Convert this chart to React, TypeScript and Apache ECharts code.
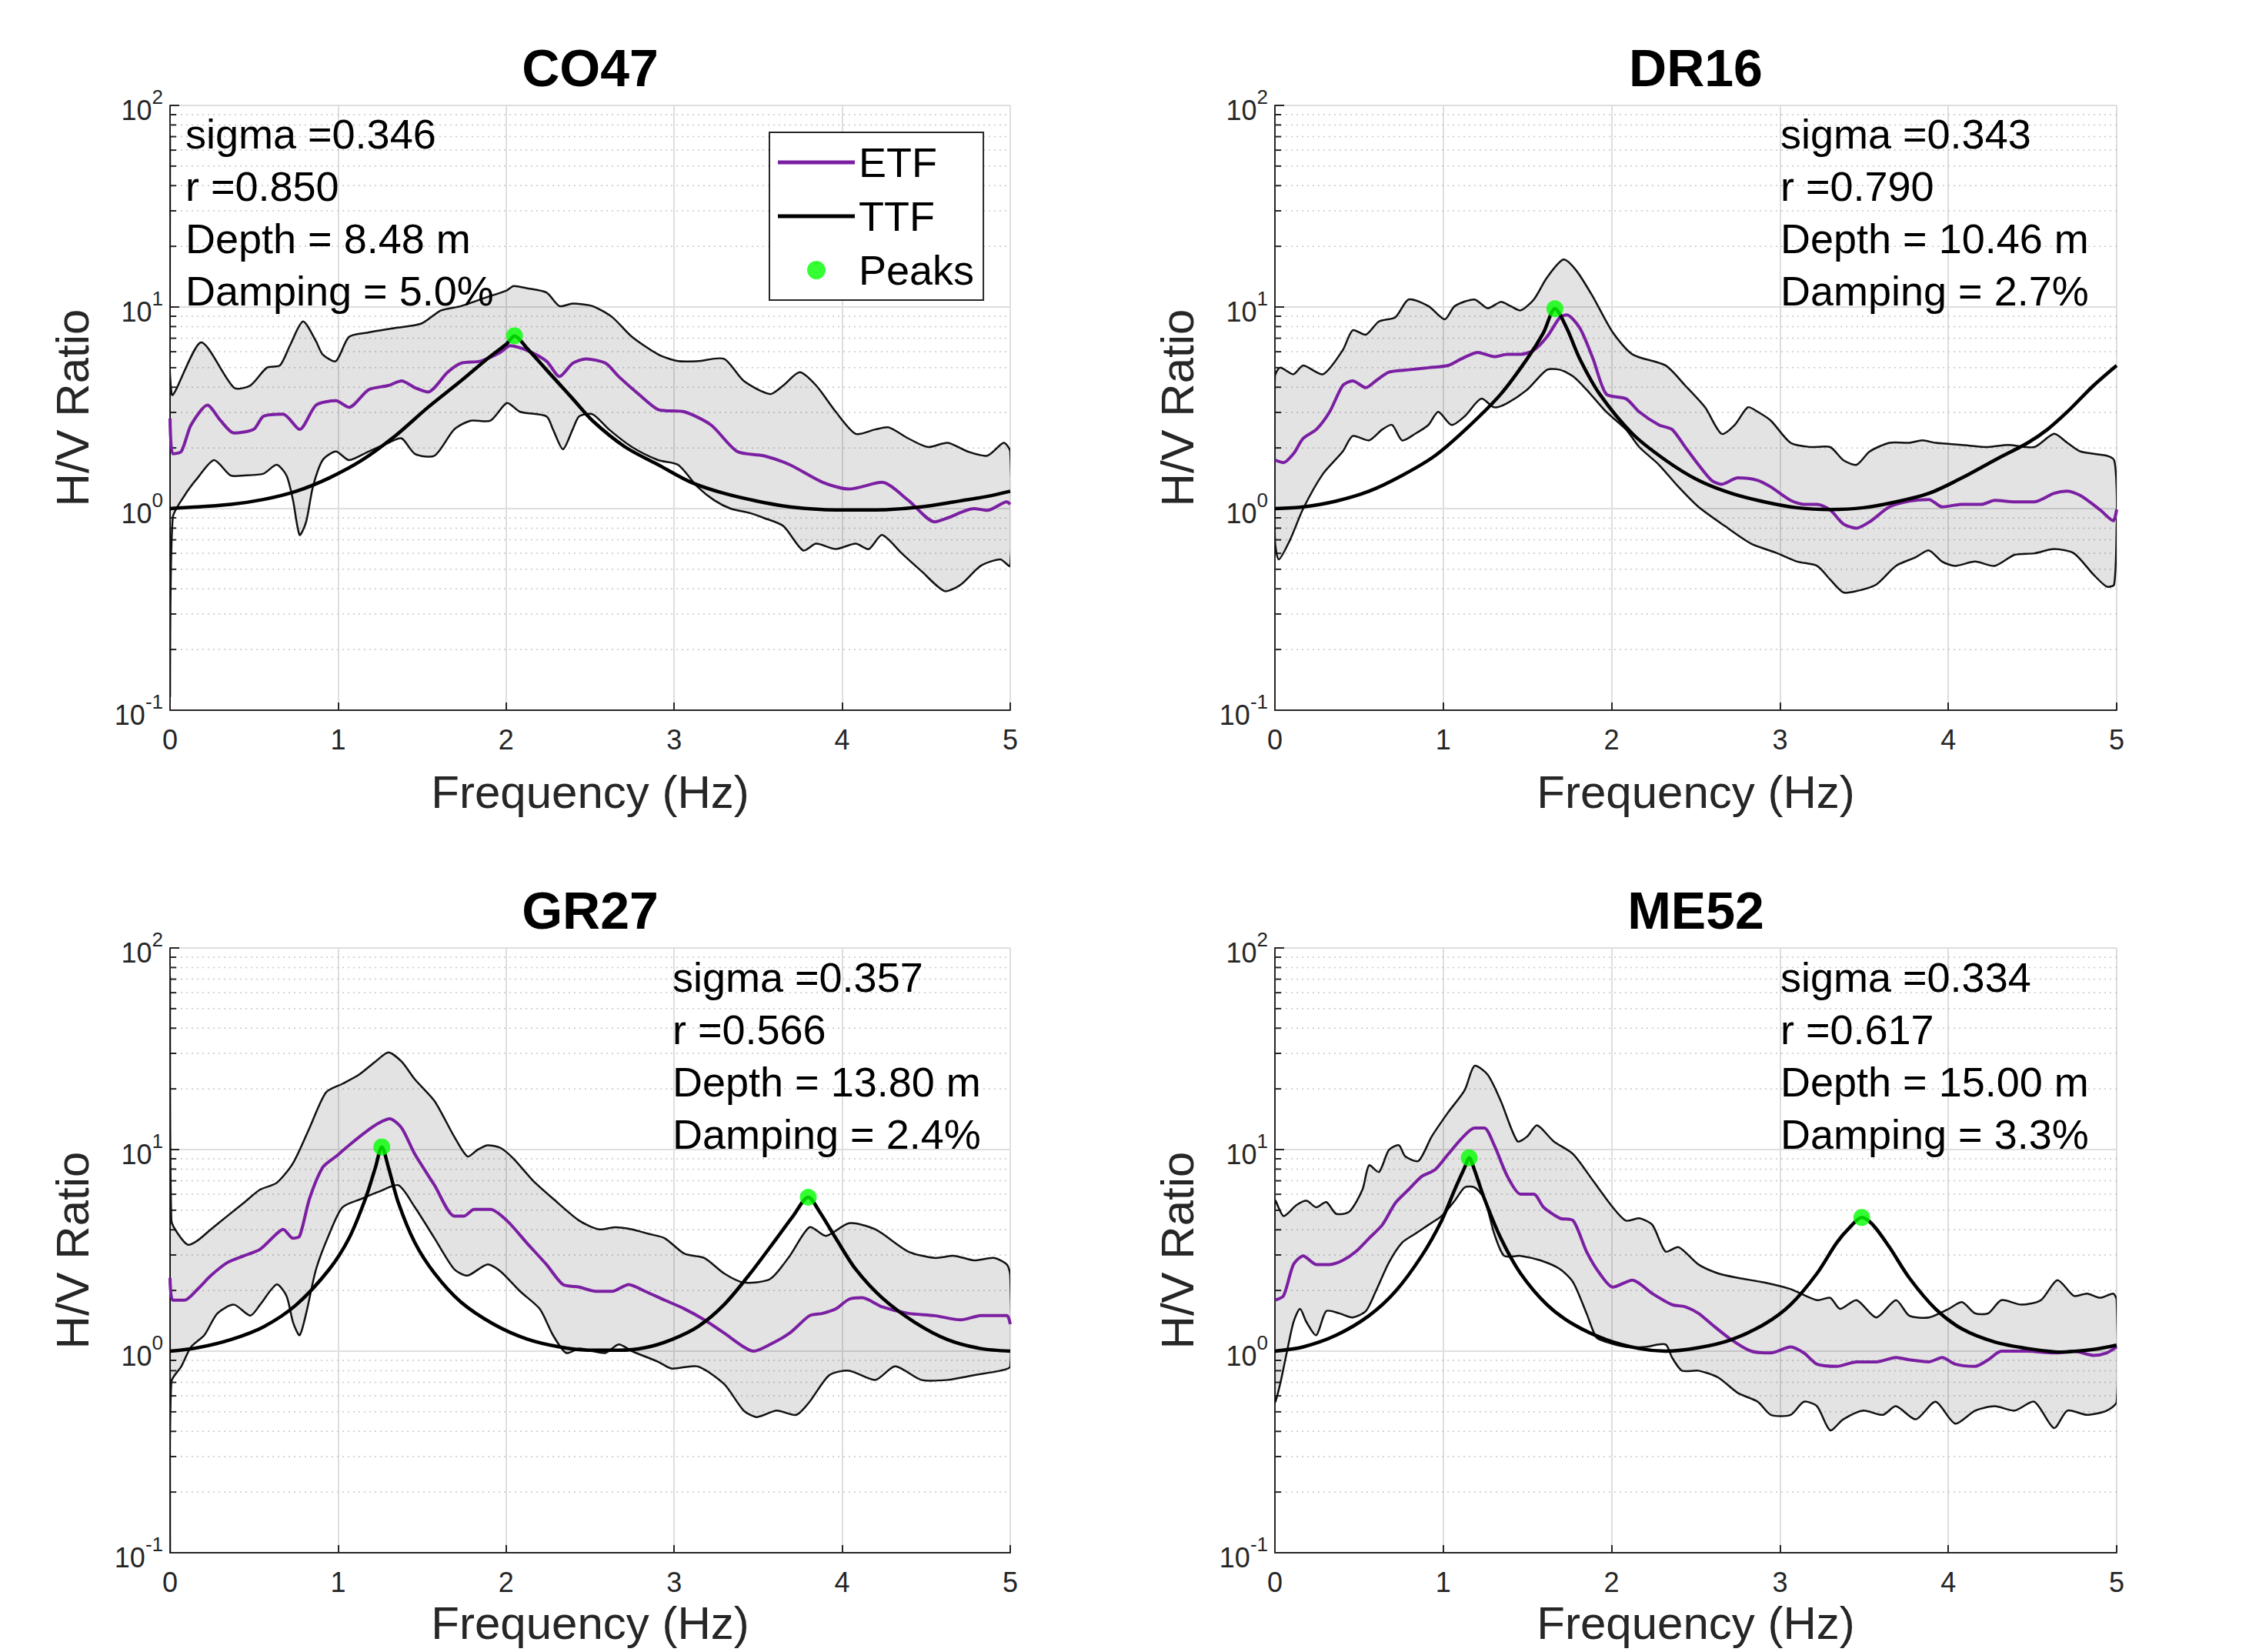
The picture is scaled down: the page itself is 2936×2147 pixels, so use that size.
import React, { useEffect, useRef } from "react";
import * as echarts from "echarts";

// ---------------- data ----------------
const stationNames = ["CO47", "DR16", "GR27", "ME52"];
const xTickValues = [0, 1, 2, 3, 4, 5];
const minorGridValues = [
  0.2, 0.3, 0.4, 0.5, 0.6, 0.7, 0.8, 0.9,
  2, 3, 4, 5, 6, 7, 8, 9,
  20, 30, 40, 50, 60, 70, 80, 90,
];
const legendNames = ["ETF", "TTF", "Peaks"];

const co47Stats = ["sigma =0.346", "r =0.850", "Depth = 8.48 m", "Damping = 5.0%"];
const dr16Stats = ["sigma =0.343", "r =0.790", "Depth = 10.46 m", "Damping = 2.7%"];
const gr27Stats = ["sigma =0.357", "r =0.566", "Depth = 13.80 m", "Damping = 2.4%"];
const me52Stats = ["sigma =0.334", "r =0.617", "Depth = 15.00 m", "Damping = 3.3%"];

// CO47
const co47Upper = [
  [0, 69], [0.01, 3.7], [0.184, 6.67], [0.38, 3.98], [0.478, 4.08], [0.576, 5.0], [0.654, 5.13], [0.713, 6.43],
  [0.791, 8.48], [0.869, 6.76], [0.908, 5.82], [0.987, 5.39], [1.065, 7.11], [1.182, 7.48], [1.339, 7.87],
  [1.496, 8.28], [1.613, 9.62], [1.731, 10.1], [1.887, 11.2], [2.005, 12.1], [2.044, 12.7], [2.122, 12.4],
  [2.24, 11.8], [2.318, 10.1], [2.396, 10.4], [2.514, 10.1], [2.631, 8.91], [2.749, 7.11], [2.905, 5.82],
  [3.023, 5.39], [3.14, 5.39], [3.297, 5.53], [3.414, 4.3], [3.571, 3.7], [3.649, 4.08], [3.747, 4.75],
  [3.845, 4.08], [3.962, 3.02], [4.08, 2.35], [4.197, 2.47], [4.276, 2.53], [4.393, 2.23], [4.51, 2.02],
  [4.628, 2.12], [4.746, 1.92], [4.863, 1.83], [4.961, 2.12], [5.0, 1.92],
];
const co47Lower = [
  [0, 0.12], [0.016, 0.9], [0.086, 1.16], [0.164, 1.42], [0.262, 1.74], [0.36, 1.46], [0.439, 1.46], [0.556, 1.49],
  [0.634, 1.65], [0.693, 1.46], [0.732, 1.1], [0.771, 0.74], [0.81, 0.86], [0.85, 1.28], [0.908, 1.74],
  [0.987, 1.92], [1.065, 1.74], [1.182, 1.92], [1.3, 2.12], [1.378, 2.23], [1.457, 1.87], [1.574, 1.83],
  [1.691, 2.47], [1.789, 2.73], [1.907, 2.73], [2.005, 3.34], [2.083, 3.02], [2.24, 2.87], [2.279, 2.47],
  [2.338, 1.97], [2.396, 2.47], [2.435, 2.87], [2.514, 2.94], [2.612, 2.47], [2.749, 2.02], [2.905, 1.74],
  [3.023, 1.65], [3.14, 1.28], [3.238, 1.1], [3.336, 1.0], [3.453, 0.95], [3.532, 0.9], [3.649, 0.82],
  [3.767, 0.62], [3.845, 0.67], [3.962, 0.63], [4.08, 0.67], [4.158, 0.63], [4.237, 0.74], [4.354, 0.6],
  [4.471, 0.49], [4.609, 0.39], [4.706, 0.42], [4.824, 0.52], [4.941, 0.56], [5.0, 0.52],
];
const co47Etf = [
  [0, 2.8], [0.016, 1.87], [0.067, 1.92], [0.125, 2.6], [0.223, 3.26], [0.301, 2.73], [0.38, 2.37], [0.497, 2.47],
  [0.556, 2.87], [0.673, 2.94], [0.771, 2.47], [0.869, 3.26], [0.987, 3.43], [1.065, 3.18], [1.182, 3.89],
  [1.3, 4.08], [1.378, 4.3], [1.457, 3.98], [1.535, 3.79], [1.652, 4.75], [1.731, 5.26], [1.848, 5.39],
  [1.966, 5.96], [2.024, 6.43], [2.122, 6.11], [2.24, 5.39], [2.318, 4.52], [2.396, 5.26], [2.475, 5.53],
  [2.592, 5.26], [2.67, 4.52], [2.788, 3.7], [2.905, 3.1], [3.062, 3.02], [3.219, 2.6], [3.375, 1.92],
  [3.532, 1.83], [3.688, 1.65], [3.884, 1.35], [4.041, 1.25], [4.237, 1.35], [4.393, 1.1], [4.55, 0.86],
  [4.628, 0.9], [4.785, 1.0], [4.863, 0.98], [4.98, 1.08], [5.0, 1.05],
];
const co47Ttf = [
  [0, 1.0], [0.36, 1.05], [0.556, 1.11], [0.752, 1.22], [0.948, 1.42], [1.143, 1.74], [1.339, 2.29],
  [1.535, 3.18], [1.731, 4.3], [1.887, 5.53], [2.005, 6.59], [2.05, 7.2], [2.122, 6.27], [2.24, 4.88],
  [2.396, 3.51], [2.514, 2.73], [2.709, 2.02], [2.905, 1.65], [3.101, 1.35], [3.297, 1.19], [3.492, 1.09],
  [3.688, 1.02], [3.884, 0.99], [4.08, 0.985], [4.276, 0.99], [4.471, 1.02], [4.667, 1.08], [4.863, 1.15],
  [5.0, 1.22],
];
const co47Peaks = [[2.05, 7.2]];

// DR16
const dr16Upper = [
  [0, 4.52], [0.031, 5.0], [0.11, 4.64], [0.168, 5.13], [0.286, 4.64], [0.403, 6.11], [0.462, 7.67], [0.54, 7.29],
  [0.618, 8.48], [0.716, 8.91], [0.794, 10.9], [0.912, 10.1], [1.009, 8.69], [1.068, 10.1], [1.185, 10.9],
  [1.264, 9.86], [1.342, 10.6], [1.401, 10.1], [1.459, 9.62], [1.538, 10.9], [1.616, 14.0], [1.714, 17.2],
  [1.792, 15.1], [1.89, 11.2], [2.007, 7.48], [2.124, 5.82], [2.32, 5.13], [2.437, 4.08], [2.555, 3.18],
  [2.653, 2.35], [2.731, 2.6], [2.809, 3.18], [2.868, 3.02], [2.946, 2.73], [3.063, 2.12], [3.181, 2.02],
  [3.298, 2.02], [3.376, 1.74], [3.455, 1.65], [3.533, 1.92], [3.65, 2.12], [3.768, 2.12], [3.846, 2.18],
  [3.924, 2.12], [4.081, 2.07], [4.237, 2.02], [4.354, 2.07], [4.511, 2.02], [4.628, 2.35], [4.707, 2.12],
  [4.785, 1.92], [4.941, 1.83], [4.985, 1.74], [5.0, 1.24],
];
const dr16Lower = [
  [0, 0.7], [0.023, 0.56], [0.09, 0.7], [0.168, 1.0], [0.286, 1.49], [0.403, 1.92], [0.462, 2.29], [0.559, 2.18],
  [0.638, 2.47], [0.696, 2.6], [0.755, 2.18], [0.833, 2.35], [0.912, 2.6], [0.97, 3.02], [1.049, 2.6],
  [1.127, 2.87], [1.225, 3.51], [1.303, 3.18], [1.381, 3.34], [1.498, 3.89], [1.616, 4.88], [1.694, 4.88],
  [1.772, 4.52], [1.851, 3.89], [1.968, 3.02], [2.085, 2.47], [2.164, 2.02], [2.281, 1.65], [2.398, 1.28],
  [2.516, 1.02], [2.672, 0.82], [2.829, 0.67], [2.985, 0.6], [3.103, 0.546], [3.22, 0.52], [3.298, 0.445],
  [3.376, 0.384], [3.455, 0.39], [3.572, 0.42], [3.689, 0.52], [3.807, 0.574], [3.885, 0.62], [3.963, 0.546],
  [4.041, 0.52], [4.159, 0.546], [4.276, 0.52], [4.394, 0.59], [4.511, 0.6], [4.628, 0.63], [4.746, 0.6],
  [4.863, 0.47], [4.941, 0.41], [4.985, 0.42], [5.0, 0.82],
];
const dr16Etf = [
  [0, 1.74], [0.051, 1.69], [0.11, 1.87], [0.168, 2.23], [0.246, 2.47], [0.325, 3.02], [0.403, 4.08], [0.462, 4.3],
  [0.54, 3.98], [0.599, 4.3], [0.677, 4.75], [0.794, 4.88], [0.912, 5.0], [1.029, 5.13], [1.107, 5.53],
  [1.205, 5.96], [1.303, 5.67], [1.381, 5.82], [1.459, 5.82], [1.538, 6.11], [1.616, 7.11], [1.694, 8.91],
  [1.733, 9.14], [1.811, 7.87], [1.89, 5.53], [1.968, 3.7], [2.085, 3.51], [2.164, 3.02], [2.281, 2.6],
  [2.359, 2.47], [2.437, 2.02], [2.516, 1.65], [2.594, 1.38], [2.653, 1.32], [2.75, 1.42], [2.868, 1.38],
  [2.946, 1.28], [3.063, 1.1], [3.142, 1.05], [3.22, 1.05], [3.298, 0.985], [3.376, 0.84], [3.455, 0.8],
  [3.533, 0.86], [3.65, 1.02], [3.768, 1.09], [3.885, 1.11], [3.963, 1.02], [4.081, 1.05], [4.198, 1.05],
  [4.276, 1.1], [4.394, 1.08], [4.511, 1.08], [4.628, 1.19], [4.707, 1.22], [4.785, 1.16], [4.902, 0.985],
  [4.98, 0.87], [5.0, 0.99],
];
const dr16Ttf = [
  [0, 1.0], [0.168, 1.02], [0.364, 1.09], [0.559, 1.22], [0.755, 1.46], [0.951, 1.83], [1.146, 2.53],
  [1.342, 3.7], [1.498, 5.53], [1.596, 7.48], [1.663, 9.8], [1.733, 7.87], [1.811, 5.53], [1.929, 3.7],
  [2.124, 2.35], [2.32, 1.74], [2.516, 1.38], [2.711, 1.19], [2.907, 1.08], [3.103, 1.01], [3.298, 0.99],
  [3.494, 1.01], [3.689, 1.08], [3.885, 1.19], [4.081, 1.42], [4.276, 1.74], [4.472, 2.12], [4.589, 2.47],
  [4.707, 3.02], [4.863, 4.08], [5.0, 5.13],
];
const dr16Peaks = [[1.663, 9.8]];

// GR27
const gr27Upper = [
  [0, 70], [0.008, 4.44], [0.047, 3.82], [0.106, 3.37], [0.164, 3.54], [0.243, 4.02], [0.341, 4.68], [0.439, 5.44],
  [0.536, 6.33], [0.634, 6.83], [0.732, 8.57], [0.83, 12.8], [0.928, 19.2], [1.026, 21.2], [1.124, 23.5],
  [1.222, 27.3], [1.3, 30.3], [1.378, 27.3], [1.457, 22.3], [1.574, 17.4], [1.691, 11.6], [1.77, 9.24],
  [1.828, 9.95], [1.887, 10.5], [1.966, 10.2], [2.044, 9.01], [2.161, 7.0], [2.279, 5.71], [2.435, 4.44],
  [2.553, 4.02], [2.651, 4.12], [2.749, 4.02], [2.847, 3.82], [2.944, 3.63], [3.062, 3.04], [3.179, 2.9],
  [3.297, 2.43], [3.414, 2.19], [3.571, 2.28], [3.688, 2.97], [3.806, 4.12], [3.904, 3.73], [4.041, 4.31],
  [4.197, 4.02], [4.393, 3.12], [4.55, 2.9], [4.667, 2.97], [4.785, 2.82], [4.902, 2.9], [4.98, 2.69], [5.0, 2.37],
];
const gr27Lower = [
  [0, 0.1], [0.008, 0.705], [0.067, 0.84], [0.125, 1.05], [0.204, 1.2], [0.282, 1.54], [0.38, 1.7], [0.478, 1.5],
  [0.536, 1.7], [0.634, 2.14], [0.693, 1.88], [0.732, 1.39], [0.771, 1.2], [0.81, 1.54], [0.869, 2.55],
  [0.948, 3.82], [1.026, 5.17], [1.143, 5.71], [1.241, 6.17], [1.359, 6.65], [1.457, 5.17], [1.574, 3.63],
  [1.691, 2.55], [1.77, 2.37], [1.887, 2.69], [1.966, 2.49], [2.083, 1.98], [2.2, 1.62], [2.279, 1.2],
  [2.357, 0.98], [2.435, 1.03], [2.514, 1.0], [2.592, 0.98], [2.67, 1.08], [2.749, 1.0], [2.905, 0.885],
  [2.984, 0.82], [3.14, 0.84], [3.297, 0.687], [3.414, 0.507], [3.492, 0.471], [3.61, 0.507], [3.727, 0.483],
  [3.806, 0.561], [3.923, 0.76], [4.041, 0.8], [4.197, 0.72], [4.315, 0.84], [4.471, 0.72], [4.628, 0.72],
  [4.785, 0.76], [4.941, 0.8], [5.0, 0.84],
];
const gr27Etf = [
  [0, 2.31], [0.016, 1.79], [0.086, 1.79], [0.164, 2.03], [0.243, 2.37], [0.341, 2.75], [0.439, 2.97], [0.536, 3.2],
  [0.634, 3.82], [0.673, 4.02], [0.732, 3.63], [0.771, 3.72], [0.83, 5.71], [0.908, 8.14], [0.987, 9.24],
  [1.065, 10.5], [1.163, 12.2], [1.241, 13.5], [1.308, 14.2], [1.378, 12.8], [1.457, 9.48], [1.574, 6.65],
  [1.691, 4.68], [1.75, 4.68], [1.809, 5.05], [1.907, 5.05], [2.005, 4.44], [2.122, 3.45], [2.24, 2.69],
  [2.338, 2.14], [2.435, 2.08], [2.533, 1.98], [2.631, 1.98], [2.729, 2.14], [2.827, 1.98], [2.944, 1.79],
  [3.062, 1.62], [3.179, 1.43], [3.297, 1.23], [3.414, 1.05], [3.473, 1.0], [3.571, 1.08], [3.688, 1.23],
  [3.806, 1.5], [3.884, 1.54], [3.962, 1.62], [4.041, 1.81], [4.119, 1.84], [4.237, 1.66], [4.393, 1.54],
  [4.55, 1.5], [4.706, 1.43], [4.824, 1.5], [4.98, 1.5], [5.0, 1.36],
];
const gr27Ttf = [
  [0, 1.0], [0.164, 1.04], [0.36, 1.14], [0.556, 1.32], [0.752, 1.7], [0.948, 2.55], [1.065, 3.63], [1.163, 5.71],
  [1.222, 8.14], [1.26, 10.3], [1.3, 8.14], [1.359, 5.44], [1.457, 3.45], [1.574, 2.43], [1.731, 1.75],
  [1.926, 1.36], [2.122, 1.15], [2.318, 1.05], [2.514, 1.01], [2.67, 1.01], [2.827, 1.04], [2.984, 1.14],
  [3.14, 1.32], [3.297, 1.7], [3.453, 2.43], [3.61, 3.63], [3.708, 4.68], [3.798, 5.8], [3.865, 4.92],
  [3.962, 3.63], [4.08, 2.55], [4.237, 1.84], [4.432, 1.39], [4.628, 1.14], [4.824, 1.03], [5.0, 1.0],
];
const gr27Peaks = [[1.26, 10.3], [3.798, 5.8]];

// ME52
const me52Upper = [
  [0, 5.57], [0.051, 4.68], [0.129, 5.31], [0.188, 5.57], [0.246, 5.17], [0.305, 5.49], [0.364, 4.8], [0.442, 4.92],
  [0.52, 6.33], [0.559, 8.35], [0.618, 7.74], [0.677, 9.95], [0.736, 10.5], [0.775, 9.24], [0.853, 8.79],
  [0.931, 11.6], [1.029, 15.3], [1.127, 19.7], [1.185, 26.0], [1.264, 23.5], [1.342, 17.4], [1.44, 11.0],
  [1.498, 11.6], [1.557, 13.2], [1.655, 11.0], [1.772, 9.48], [1.89, 7.0], [2.007, 5.17], [2.085, 4.44],
  [2.164, 4.56], [2.242, 4.23], [2.32, 3.12], [2.398, 3.28], [2.516, 2.69], [2.633, 2.43], [2.75, 2.31],
  [2.907, 2.19], [3.063, 2.03], [3.22, 1.79], [3.298, 1.84], [3.357, 1.62], [3.455, 1.79], [3.572, 1.47],
  [3.689, 1.79], [3.768, 1.5], [3.885, 1.47], [4.002, 1.62], [4.081, 1.75], [4.159, 1.54], [4.237, 1.54],
  [4.315, 1.79], [4.433, 1.7], [4.55, 1.79], [4.648, 2.25], [4.746, 1.88], [4.824, 1.93], [4.902, 1.84],
  [4.98, 1.93], [5.0, 1.79],
];
const me52Lower = [
  [0, 0.561], [0.031, 0.687], [0.07, 0.98], [0.11, 1.39], [0.149, 1.62], [0.188, 1.39], [0.246, 1.2], [0.305, 1.58],
  [0.383, 1.54], [0.462, 1.47], [0.54, 1.58], [0.599, 1.98], [0.677, 2.75], [0.755, 3.45], [0.833, 3.82],
  [0.912, 4.23], [0.99, 4.68], [1.068, 5.57], [1.127, 6.49], [1.185, 6.49], [1.244, 5.71], [1.303, 3.82],
  [1.362, 2.97], [1.459, 2.97], [1.577, 2.82], [1.694, 2.55], [1.772, 2.19], [1.851, 1.54], [1.909, 1.17],
  [1.968, 1.11], [2.085, 1.05], [2.203, 1.05], [2.32, 1.08], [2.359, 0.93], [2.418, 0.8], [2.516, 0.8],
  [2.633, 0.74], [2.75, 0.62], [2.868, 0.561], [2.946, 0.483], [3.063, 0.483], [3.142, 0.561], [3.22, 0.533],
  [3.298, 0.405], [3.376, 0.459], [3.494, 0.507], [3.611, 0.483], [3.689, 0.533], [3.807, 0.459], [3.924, 0.561],
  [4.041, 0.437], [4.159, 0.507], [4.276, 0.533], [4.394, 0.507], [4.511, 0.561], [4.628, 0.415], [4.707, 0.507],
  [4.824, 0.483], [4.941, 0.507], [5.0, 0.561],
];
const me52Etf = [
  [0, 1.79], [0.051, 1.88], [0.11, 2.69], [0.168, 2.97], [0.246, 2.69], [0.325, 2.69], [0.403, 2.82], [0.481, 3.12],
  [0.559, 3.63], [0.638, 4.23], [0.716, 5.44], [0.794, 6.33], [0.872, 7.36], [0.951, 7.94], [1.029, 9.48],
  [1.107, 11.3], [1.185, 12.8], [1.244, 12.8], [1.303, 10.5], [1.381, 7.36], [1.459, 6.01], [1.538, 6.01],
  [1.596, 5.17], [1.694, 4.56], [1.772, 4.44], [1.851, 3.12], [1.929, 2.43], [2.007, 2.08], [2.124, 2.25],
  [2.242, 1.93], [2.359, 1.7], [2.437, 1.66], [2.516, 1.54], [2.594, 1.36], [2.711, 1.14], [2.829, 1.0],
  [2.946, 0.98], [3.063, 1.05], [3.142, 0.98], [3.22, 0.862], [3.337, 0.84], [3.455, 0.885], [3.572, 0.885],
  [3.689, 0.93], [3.768, 0.906], [3.885, 0.885], [3.963, 0.93], [4.041, 0.862], [4.159, 0.84], [4.237, 0.906],
  [4.315, 1.0], [4.472, 1.0], [4.628, 0.98], [4.746, 1.0], [4.863, 0.953], [4.941, 0.98], [5.0, 1.05],
];
const me52Ttf = [
  [0, 1.0], [0.168, 1.05], [0.364, 1.2], [0.559, 1.5], [0.716, 1.98], [0.872, 2.97], [0.99, 4.44], [1.068, 6.33],
  [1.127, 8.14], [1.154, 9.1], [1.185, 7.94], [1.244, 5.71], [1.342, 3.63], [1.459, 2.43], [1.616, 1.7],
  [1.772, 1.36], [1.968, 1.14], [2.164, 1.03], [2.32, 1.0], [2.516, 1.04], [2.711, 1.14], [2.907, 1.36],
  [3.063, 1.7], [3.22, 2.43], [3.337, 3.45], [3.416, 4.12], [3.486, 4.6], [3.552, 4.23], [3.65, 3.28],
  [3.768, 2.31], [3.924, 1.62], [4.081, 1.29], [4.276, 1.11], [4.472, 1.03], [4.667, 0.99], [4.863, 1.02],
  [5.0, 1.07],
];
const me52Peaks = [[1.154, 9.1], [3.486, 4.6]];

// ---------------- layout / style ----------------
const FONT = '"Liberation Sans", Arial, Helvetica, sans-serif';
const AXIS_COLOR = "#262626";
const ETF_COLOR = "#7b1fa2";
const PEAK_COLOR = "#00ff00";
const LINE_ICON = "path://M0,0H100V5H0Z";

const gridRects = [
  { left: 221, top: 137, width: 1092, height: 786 },
  { left: 1657, top: 137, width: 1094, height: 786 },
  { left: 221, top: 1232, width: 1092, height: 786 },
  { left: 1657, top: 1232, width: 1094, height: 786 },
];
const xNameGaps = [76, 76, 61, 61];
const titleCenters = [[767, 88], [2204, 88], [767, 1183], [2204, 1183]];
const statsAnchors = [[241, 174], [2314, 174], [874, 1270], [2314, 1270]];
const STATS_LINE_GAP = 68;

const panels = [
  { upper: co47Upper, lower: co47Lower, etf: co47Etf, ttf: co47Ttf, peaks: co47Peaks, stats: co47Stats },
  { upper: dr16Upper, lower: dr16Lower, etf: dr16Etf, ttf: dr16Ttf, peaks: dr16Peaks, stats: dr16Stats },
  { upper: gr27Upper, lower: gr27Lower, etf: gr27Etf, ttf: gr27Ttf, peaks: gr27Peaks, stats: gr27Stats },
  { upper: me52Upper, lower: me52Lower, etf: me52Etf, ttf: me52Ttf, peaks: me52Peaks, stats: me52Stats },
];

function buildOption() {
  const grid: any[] = [];
  const xAxis: any[] = [];
  const yAxis: any[] = [];
  const series: any[] = [];
  const graphic: any[] = [];

  panels.forEach((p, i) => {
    grid.push({ ...gridRects[i], containLabel: false });
    xAxis.push({
      gridIndex: i,
      type: "value",
      min: xTickValues[0],
      max: xTickValues[xTickValues.length - 1],
      interval: 1,
      name: "Frequency (Hz)",
      nameLocation: "middle",
      nameGap: xNameGaps[i],
      nameTextStyle: { fontSize: 60, color: AXIS_COLOR, fontFamily: FONT },
      axisLine: { show: true, onZero: false, lineStyle: { color: AXIS_COLOR, width: 2 } },
      axisTick: { show: true, inside: true, length: 10, lineStyle: { color: AXIS_COLOR, width: 2 } },
      axisLabel: { fontSize: 36, color: AXIS_COLOR, fontFamily: FONT, margin: 20 },
      splitLine: { show: true, lineStyle: { color: "#dedede", width: 2 } },
    });
    yAxis.push({
      gridIndex: i,
      type: "log",
      logBase: 10,
      min: 0.1,
      max: 100,
      name: "H/V Ratio",
      nameLocation: "middle",
      nameGap: 97,
      nameTextStyle: { fontSize: 60, color: AXIS_COLOR, fontFamily: FONT },
      axisLine: { show: true, onZero: false, lineStyle: { color: AXIS_COLOR, width: 2 } },
      axisTick: { show: true, inside: true, length: 12, lineStyle: { color: AXIS_COLOR, width: 2 } },
      axisLabel: {
        margin: 9,
        formatter: (v: number) => `{b|10}{s|${Math.round(Math.log10(v))}}`,
        rich: {
          b: { fontSize: 36, color: AXIS_COLOR, fontFamily: FONT, lineHeight: 48, verticalAlign: "bottom" },
          s: { fontSize: 26, color: AXIS_COLOR, fontFamily: FONT, lineHeight: 26, verticalAlign: "top" },
        },
      },
      splitLine: { show: true, lineStyle: { color: "#dedede", width: 2 } },
    });

    // minor grid (dotted) + minor ticks on the left axis
    series.push({
      type: "custom",
      name: "minor",
      xAxisIndex: i,
      yAxisIndex: i,
      silent: true,
      z: 1,
      data: minorGridValues.map((v) => [xTickValues[0], v]),
      renderItem: (params: any, api: any) => {
        const cs = params.coordSys;
        const y = api.coord([api.value(0), api.value(1)])[1];
        return {
          type: "group",
          children: [
            {
              type: "line",
              shape: { x1: cs.x, y1: y, x2: cs.x + cs.width, y2: y },
              style: { stroke: "#c8c8c8", lineWidth: 1.5, lineDash: [2, 5] },
            },
            {
              type: "line",
              shape: { x1: cs.x, y1: y, x2: cs.x + 8, y2: y },
              style: { stroke: AXIS_COLOR, lineWidth: 2 },
            },
          ],
        };
      },
    });

    // shaded band between lower and upper bound
    const upper = p.upper;
    const lower = p.lower;
    series.push({
      type: "custom",
      name: "band",
      xAxisIndex: i,
      yAxisIndex: i,
      silent: true,
      clip: true,
      z: 2,
      data: [[2.5, 1]],
      renderItem: (_params: any, api: any) => {
        const pts: number[][] = [];
        for (const q of upper) pts.push(api.coord(q));
        for (let k = lower.length - 1; k >= 0; k--) pts.push(api.coord(lower[k]));
        return {
          type: "polygon",
          shape: { points: pts, smooth: 0.25 },
          style: { fill: "rgba(0,0,0,0.11)", stroke: "#111111", lineWidth: 2.5, lineJoin: "round" },
        };
      },
    });

    series.push({
      type: "line",
      name: "ETF",
      xAxisIndex: i,
      yAxisIndex: i,
      data: p.etf,
      symbol: "none",
      showSymbol: false,
      smooth: 0.25,
      z: 3,
      lineStyle: { color: ETF_COLOR, width: 4 },
      itemStyle: { color: ETF_COLOR },
    });
    series.push({
      type: "line",
      name: "TTF",
      xAxisIndex: i,
      yAxisIndex: i,
      data: p.ttf,
      symbol: "none",
      showSymbol: false,
      smooth: 0.3,
      z: 4,
      lineStyle: { color: "#000000", width: 4.5 },
      itemStyle: { color: "#000000" },
    });
    series.push({
      type: "scatter",
      name: "Peaks",
      xAxisIndex: i,
      yAxisIndex: i,
      data: p.peaks,
      symbol: "circle",
      symbolSize: 22,
      z: 5,
      itemStyle: { color: PEAK_COLOR },
    });

    graphic.push({
      type: "text",
      x: titleCenters[i][0],
      y: titleCenters[i][1],
      style: {
        text: stationNames[i],
        font: `bold 68px ${FONT}`,
        fill: "#000",
        textAlign: "center",
        textVerticalAlign: "middle",
      },
    });
    p.stats.forEach((line, k) => {
      graphic.push({
        type: "text",
        x: statsAnchors[i][0],
        y: statsAnchors[i][1] + k * STATS_LINE_GAP,
        z: 100,
        style: {
          text: line,
          font: `54px ${FONT}`,
          fill: "#000",
          textAlign: "left",
          textVerticalAlign: "middle",
        },
      });
    });
  });

  return {
    animation: false,
    backgroundColor: "#ffffff",
    textStyle: { fontFamily: FONT },
    grid,
    xAxis,
    yAxis,
    series,
    graphic,
    legend: {
      data: [
        { name: legendNames[0], icon: LINE_ICON },
        { name: legendNames[1], icon: LINE_ICON },
        { name: legendNames[2], icon: "circle" },
      ],
      orient: "vertical",
      left: 1000,
      top: 172,
      selectedMode: false,
      backgroundColor: "#ffffff",
      borderColor: AXIS_COLOR,
      borderWidth: 2,
      borderRadius: 0,
      padding: [12, 12, 12, 11],
      itemWidth: 100,
      itemHeight: 24,
      itemGap: 16,
      textStyle: { fontSize: 54, color: "#000", fontFamily: FONT },
      z: 50,
    },
  };
}

export default function App() {
  const ref = useRef<HTMLDivElement>(null);
  useEffect(() => {
    if (!ref.current) return;
    const chart = echarts.init(ref.current, undefined, { renderer: "svg" });
    chart.setOption(buildOption() as any);
    return () => chart.dispose();
  }, []);
  return (
    <div
      ref={ref}
      style={{ position: "fixed", left: 0, top: 0, width: "2936px", height: "2147px", background: "#fff" }}
    />
  );
}
